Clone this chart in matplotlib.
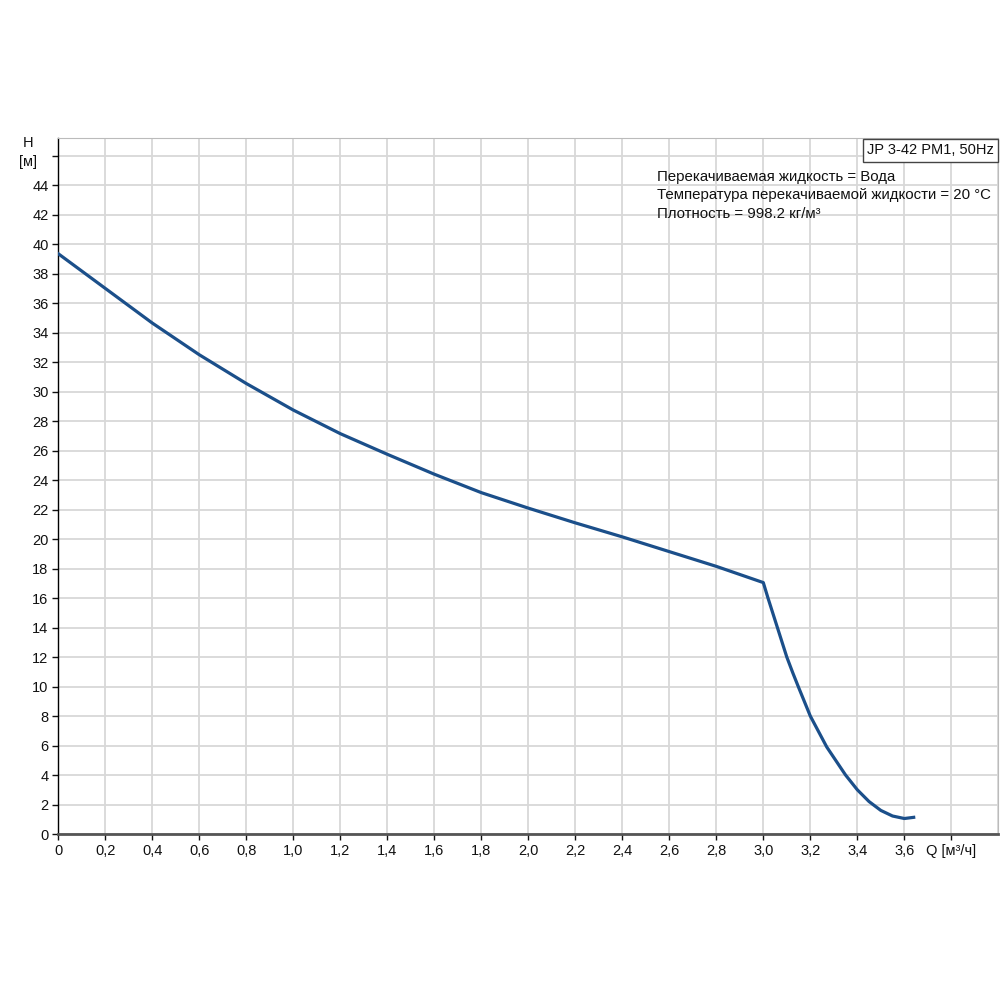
import numpy as np
import matplotlib.pyplot as plt

plt.rcParams['font.family'] = ['Liberation Sans', 'DejaVu Sans']

# pump curve
q = [0.0, 0.2, 0.4, 0.6, 0.8, 1.0, 1.2, 1.4, 1.6, 1.8, 2.0, 2.2, 2.4, 2.6, 2.8, 3.0,
     3.02, 3.06, 3.10, 3.125, 3.15, 3.20, 3.27, 3.35, 3.40, 3.45, 3.50, 3.55, 3.60, 3.64]
h = [39.35, 37.0, 34.65, 32.5, 30.55, 28.75, 27.15, 25.75, 24.4, 23.15, 22.1, 21.1, 20.15, 19.15, 18.15, 17.05,
     16.0, 14.0, 12.0, 10.95, 9.95, 8.0, 5.9, 4.0, 3.0, 2.2, 1.6, 1.22, 1.05, 1.13]

x_ticks = [0.0, 0.2, 0.4, 0.6, 0.8, 1.0, 1.2, 1.4, 1.6, 1.8, 2.0, 2.2, 2.4, 2.6, 2.8, 3.0, 3.2, 3.4, 3.6, 3.8]
x_labels = ['0', '0,2', '0,4', '0,6', '0,8', '1,0', '1,2', '1,4', '1,6', '1,8', '2,0', '2,2', '2,4',
            '2,6', '2,8', '3,0', '3,2', '3,4', '3,6', 'Q [м³/ч]']
y_ticks = list(range(0, 47, 2))
y_labels = [str(v) for v in range(0, 45, 2)] + ['']

info_lines = ['Перекачиваемая жидкость = Вода',
              'Температура перекачиваемой жидкости = 20 °C',
              'Плотность = 998.2 кг/м³']
title_box = 'JP 3-42 PM1, 50Hz'

fig = plt.figure(figsize=(10, 10), dpi=100)
ax = fig.add_axes([0.0583, 0.166, 0.94, 0.696])

ax.plot(q, h, color='#1b4f8a', lw=2.3, solid_joinstyle='round', zorder=3)

ax.set_xlim(0, 4.0)
ax.set_ylim(0, 47.2)

ax.set_xticks(x_ticks)
ax.set_xticklabels(x_labels)
ax.set_yticks(y_ticks)
ax.set_yticklabels(y_labels)
ax.set_xticks([4.0], minor=True)

ax.grid(True, which='both', color='#d8d8d8', lw=1.3)
ax.set_axisbelow(True)

ax.tick_params(axis='both', which='major', labelsize=10.5, colors='#111111',
               length=4, width=1, direction='out', pad=3)
ax.tick_params(axis='x', which='minor', length=0)

ax.spines['left'].set_color('black')
ax.spines['left'].set_linewidth(1)
ax.spines['bottom'].set_color('#555555')
ax.spines['bottom'].set_linewidth(2)
ax.spines['top'].set_color('#bbbbbb')
ax.spines['right'].set_color('#bbbbbb')

fig.text(0.028, 0.857, 'H', fontsize=10.5, color='#111111', ha='center', va='center')
fig.text(0.028, 0.838, '[м]', fontsize=10.5, color='#111111', ha='center', va='center')

ax.text(0.9955, 0.9925, title_box, transform=ax.transAxes, fontsize=10.5, color='#111111',
        ha='right', va='top',
        bbox=dict(boxstyle='square,pad=0.3', facecolor='white', edgecolor='#444444', lw=1))

for i, line in enumerate(info_lines):
    fig.text(0.657, 0.8235 - i * 0.0185, line, fontsize=10.8, color='#111111',
             ha='left', va='center')

fig.savefig('out.png', dpi=100, facecolor='white')
